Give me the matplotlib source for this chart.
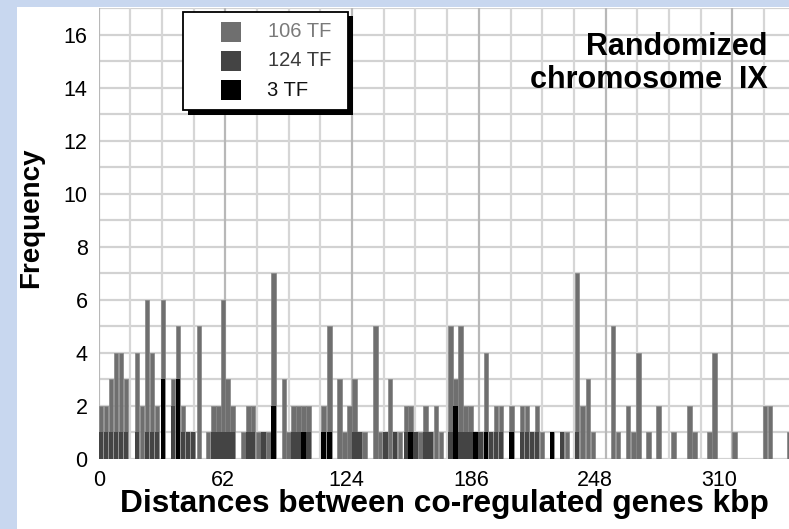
import matplotlib
matplotlib.use('Agg')
import matplotlib.pyplot as plt
from matplotlib.patches import Rectangle

plt.rcParams['font.family'] = ['Liberation Sans', 'DejaVu Sans']

# bar left edge (kbp) and frequencies
dist_kbp = [0, 2.5, 5, 7.5, 10, 12.5, 18, 20.5, 23, 25.5, 28, 31, 36, 38.5, 41, 43.5, 46, 49, 53.5,
            56.3, 58.8, 61, 63.3, 65.8, 71.3, 73.8, 76, 78.8, 81.3, 83.8, 86.3, 91.7, 93.8, 96.3,
            98.8, 101.3, 103.8, 111.3,
            114.3, 119.3, 121.8, 124.3, 126.8, 129.3, 131.8, 137.3, 139.7, 142.3, 144.7, 147.2,
            149.7, 152.6, 154.8, 157.3, 159.8, 162.3, 164.8, 167.7, 170.2,
            174.8, 177.3, 179.8, 182.3, 184.8, 187.3, 189.8, 192.7, 195.2, 197.7, 200.2, 205.3,
            210.7, 213.2, 215.7, 218.2, 220.7, 225.7,
            230.3, 232.8, 237.8, 240.7, 243.3, 245.8, 255.8, 258.3, 263.3, 266.2, 268.7, 273.7,
            278.7, 286.2,
            294.2, 296.7, 304.2, 306.7, 316.7, 332, 334.5, 344.2]
freq_106 = [2, 2, 3, 4, 4, 3, 4, 2, 6, 4, 2, 6, 3, 5, 2, 1, 1, 5, 1,
            2, 2, 6, 3, 2, 1, 2, 2, 1, 1, 1, 7, 3, 1, 2,
            2, 2, 2, 2,
            5, 3, 1, 2, 3, 1, 1, 5, 1, 1, 3, 1,
            1, 2, 2, 1, 1, 2, 1, 2, 1,
            5, 3, 5, 2, 2, 1, 1, 4, 1, 2, 2, 2,
            2, 2, 1, 2, 1, 1,
            1, 1, 7, 2, 3, 1, 5, 1, 2, 1, 4, 1,
            2, 1,
            2, 1, 1, 4, 1, 2, 2, 1]
freq_124 = [1, 1, 1, 1, 1, 1, 1, 0, 1, 1, 1, 0, 2, 0, 1, 1, 1, 0, 0,
            1, 1, 1, 1, 1, 0, 1, 1, 0, 1, 0, 0, 0, 0, 1,
            1, 0, 1, 0,
            0, 0, 0, 0, 1, 1, 0, 0, 0, 1, 0, 1,
            0, 1, 0, 1, 0, 1, 1, 0, 0,
            1, 0, 1, 1, 1, 0, 1, 0, 1, 1, 1, 1,
            1, 1, 1, 1, 0, 0,
            1, 0, 1, 0, 0, 0, 0, 0, 0, 0, 0, 0,
            0, 0,
            0, 0, 0, 0, 0, 0, 0, 0]
freq_3 = [0, 0, 0, 0, 0, 0, 0, 0, 0, 0, 0, 3, 0, 3, 0, 0, 0, 0, 0,
          0, 0, 0, 0, 0, 0, 0, 0, 0, 0, 0, 2, 0, 0, 0,
          0, 1, 0, 1,
          1, 0, 0, 0, 0, 0, 0, 0, 0, 0, 0, 0,
          0, 0, 1, 0, 0, 0, 0, 0, 0,
          0, 2, 0, 0, 0, 1, 0, 1, 0, 0, 0, 1,
          0, 0, 0, 0, 0, 1,
          0, 0, 0, 0, 0, 0, 0, 0, 0, 0, 0, 0,
          0, 0,
          0, 0, 0, 0, 0, 0, 0, 0]

series_names = ['106 TF', '124 TF', '3 TF']
series_colors = ['#6f6f6f', '#444444', '#000000']
x_ticks = [0, 62, 124, 186, 248, 310]
y_ticks = [0, 2, 4, 6, 8, 10, 12, 14, 16]

W, H = 789, 529
fig = plt.figure(figsize=(W / 100, H / 100), dpi=100, facecolor='#c8d7ef')


def fx(x):
    return x / W


def fy(y):
    return 1 - y / H


# white page over the blue background
fig.add_artist(Rectangle((fx(17), 0), 1, fy(7), transform=fig.transFigure,
                         facecolor='white', edgecolor='none', zorder=0))

ax = fig.add_axes([fx(98.7), fy(458.8), 1 - fx(98.7), fy(8.3) - fy(458.8)])
ax.set_facecolor('white')
ax.set_xlim(0, 345)
ax.set_ylim(0, 17)

# grid
for k in range(0, 18):
    ax.axhline(k, color='#d2d2d2', lw=1.6, zorder=0)
step = 63.33 / 4
for k in range(0, 23):
    c = '#b8b8b8' if k % 4 == 0 else '#d6d6d6'
    ax.axvline(k * step, color=c, lw=1.6, zorder=0)

bw = 2.1
ax.bar(dist_kbp, freq_106, width=bw, align='edge', color=series_colors[0],
       edgecolor='#858585', linewidth=0.5, zorder=2)
ax.bar(dist_kbp, freq_124, width=bw, align='edge', color=series_colors[1],
       linewidth=0, zorder=3)
ax.bar(dist_kbp, freq_3, width=bw, align='edge', color=series_colors[2],
       linewidth=0, zorder=4)

for s in ax.spines.values():
    s.set_visible(False)
ax.set_xticks(x_ticks)
ax.set_yticks(y_ticks)
ax.tick_params(length=0, labelsize=15.5, pad=8)
ax.tick_params(axis='x', pad=8)

fig.text(fx(444), fy(504), 'Distances between co-regulated genes kbp',
         ha='center', va='center', fontsize=22.8, fontweight='bold')
fig.text(fx(31), fy(218), 'Frequency', ha='center', va='center',
         rotation=90, fontsize=20, fontweight='bold')
fig.text(fx(768), fy(55), 'Randomized', ha='right', va='baseline',
         fontsize=22, fontweight='bold')
fig.text(fx(768), fy(88), 'chromosome  IX', ha='right', va='baseline',
         fontsize=22, fontweight='bold')

# legend with a hard black shadow
lx0, lx1, ly0, ly1 = 183, 348, 11.5, 110
fig.add_artist(Rectangle((fx(lx0 + 4.5), fy(ly1 + 4.5)), fx(lx1 - lx0), fy(ly0) - fy(ly1),
                         transform=fig.transFigure, facecolor='black', edgecolor='none', zorder=5))
fig.add_artist(Rectangle((fx(lx0), fy(ly1)), fx(lx1 - lx0), fy(ly0) - fy(ly1),
                         transform=fig.transFigure, facecolor='white', edgecolor='black',
                         lw=1.3, zorder=6))
text_colors = ['#7a7a7a', '#3a3a3a', '#111111']
text_x = [268, 268, 266.7]
for i, name in enumerate(series_names):
    yc = 31.7 + i * 29.3
    fig.add_artist(Rectangle((fx(221), fy(yc + 10)), fx(20), fy(yc - 10) - fy(yc + 10),
                             transform=fig.transFigure, facecolor=series_colors[i],
                             edgecolor='none', zorder=7))
    fig.text(fx(text_x[i]), fy(yc), name, ha='left', va='center', fontsize=14.5,
             color=text_colors[i], zorder=8)

fig.savefig('out.png', dpi=100, facecolor=fig.get_facecolor())
